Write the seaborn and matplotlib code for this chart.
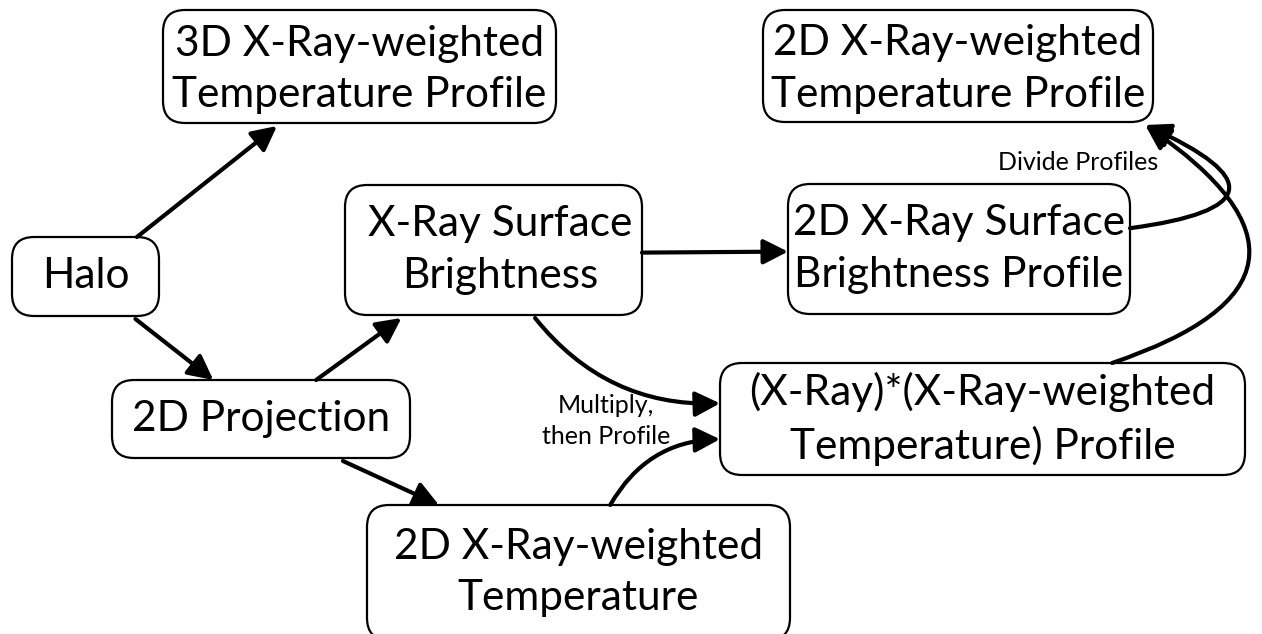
import matplotlib
matplotlib.use("Agg")
import matplotlib.pyplot as plt
import seaborn as sns
from matplotlib.patches import FancyBboxPatch, FancyArrowPatch

sns.set_theme(style="white")
plt.rcParams['font.family'] = ['Lato', 'DejaVu Sans']

# nodes of the flow chart
node_ids = ["box3d", "box2dprof", "halo", "xrsb", "xrsbprof", "proj", "prod", "temp2d"]
node_labels = [
    "3D X-Ray-weighted\nTemperature Profile",
    "2D X-Ray-weighted\nTemperature Profile",
    "Halo",
    "X-Ray Surface\nBrightness",
    "2D X-Ray Surface\nBrightness Profile",
    "2D Projection",
    "(X-Ray)*(X-Ray-weighted\nTemperature) Profile",
    "2D X-Ray-weighted\nTemperature",
]

# edges: (from, to)
edge_src = ["halo", "halo", "proj", "proj", "xrsb", "xrsb", "temp2d", "xrsbprof", "prod"]
edge_dst = ["box3d", "proj", "xrsb", "temp2d", "xrsbprof", "prod", "prod", "box2dprof", "box2dprof"]

edge_notes = ["Multiply,\nthen Profile", "Divide Profiles"]

# ---- layout (pixel space, y down) ----
W, H = 1262, 634
box_extent = {
    "box3d":     (163, 10, 556, 123),
    "box2dprof": (763, 10, 1153, 122),
    "halo":      (12, 237, 159, 316),
    "xrsb":      (345, 185, 642, 315),
    "xrsbprof":  (788, 184, 1130, 314),
    "proj":      (112, 380, 410, 458),
    "prod":      (720, 363, 1245, 475),
    "temp2d":    (367, 505, 790, 640),
}
# where each edge leaves / enters a box: (side, fraction along side)
edge_tail = [("top", 0.85), ("bottom", 0.84), ("top", 0.685), ("bottom", 0.775),
             ("right", 0.52), ("bottom", 0.64), ("top", 0.575), ("right", 0.34), ("top", 0.747)]
edge_head = [("bottom", 0.29), ("top", 0.34), ("bottom", 0.19), ("top", 0.17),
             ("left", 0.52), ("left", 0.36), ("left", 0.68), ("bottom", 0.98), ("bottom", 0.98)]
edge_rad = [0, 0, 0, 0, 0, 0.25, -0.28, 1.75, 1.0]
note_pos = [(606, 421), (1078, 162)]
text_shift = {"xrsb": (7, 0), "box3d": (0, 3), "box2dprof": (0, 3)}


def anchor(node, side, frac):
    x0, y0, x1, y1 = box_extent[node]
    if side == "top":
        return (x0 + frac * (x1 - x0), y0)
    if side == "bottom":
        return (x0 + frac * (x1 - x0), y1 + 3)
    if side == "left":
        return (x0, y0 + frac * (y1 - y0))
    return (x1, y0 + frac * (y1 - y0))


fig = plt.figure(figsize=(W / 100, H / 100), dpi=100)
ax = fig.add_axes([0, 0, 1, 1])
ax.set_xlim(0, W)
ax.set_ylim(H, 0)
ax.set_aspect("equal")
ax.set_axis_off()

for nid, label in zip(node_ids, node_labels):
    x0, y0, x1, y1 = box_extent[nid]
    ax.add_patch(FancyBboxPatch((x0, y0), x1 - x0, y1 - y0,
                                boxstyle="round,pad=0,rounding_size=22",
                                fc="white", ec="black", lw=1.6, zorder=2))
    dx, dy = text_shift.get(nid, (0, 0))
    ax.text((x0 + x1) / 2 + dx, (y0 + y1) / 2 + dy, label, ha="center", va="center",
            fontsize=30.5, linespacing=1.42, color="black", zorder=3)

for src, dst, t, h, rad in zip(edge_src, edge_dst, edge_tail, edge_head, edge_rad):
    p0 = anchor(src, *t)
    p1 = anchor(dst, *h)
    ax.add_patch(FancyArrowPatch(p0, p1, connectionstyle=f"arc3,rad={rad}",
                                 arrowstyle="-|>,head_length=0.75,head_width=0.38",
                                 mutation_scale=20, lw=3, color="black",
                                 shrinkA=0, shrinkB=0, zorder=4))

for note, (x, y) in zip(edge_notes, note_pos):
    ax.text(x, y, note, ha="center", va="center", fontsize=18, linespacing=1.45,
            color="black", zorder=3)

fig.savefig("out.png", dpi=100)
